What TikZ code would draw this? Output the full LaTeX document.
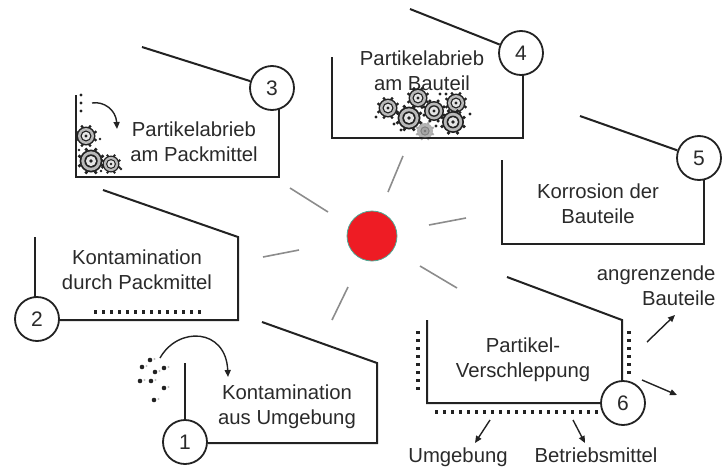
\documentclass[tikz,border=0pt]{standalone}
\usepackage{fontspec}
\setmainfont{Liberation Sans}
\usetikzlibrary{arrows.meta}
\definecolor{ink}{HTML}{222222}
\definecolor{txt}{HTML}{2A2A2A}
\definecolor{ray}{HTML}{8C8C8C}
\definecolor{core}{HTML}{EE1C24}
\definecolor{rim}{HTML}{4FA894}
\tikzset{
  frame/.style={draw=ink, line width=2pt, line join=miter},
  numcirc/.style={circle, draw=ink, line width=1.8pt, fill=white,
    minimum size=44pt, inner sep=0pt, text=txt, font=\fontsize{21}{21}\selectfont},
  caption/.style={text=txt, align=center, font=\fontsize{20.3}{25}\selectfont},
  rayline/.style={draw=ray, line width=1.6pt},
  dotline/.style={draw=ink, line width=3.4pt, dash pattern=on 3.4pt off 4.6pt},
  flow/.style={draw=ink, line width=1.4pt, -{Triangle[length=7pt,width=6pt]}},
  gear/.pic={
    \foreach \a in {22.5,67.5,...,337.5} \fill[ink] (\a:1.08) circle (0.17);
    \fill[ink] (0,0) circle (1.0);
    \fill[gray!55] (0,0) circle (0.84);
    \fill[ink] (0,0) circle (0.58);
    \fill[gray!20] (0,0) circle (0.44);
    \fill[ink] (0,0) circle (0.17);
  }
}
\begin{document}
\begin{tikzpicture}[x=1pt,y=-1pt]
\useasboundingbox (0,0) rectangle (723,466);

% central particle and its rays
\node[circle, fill=core, draw=rim, line width=0.8pt, minimum size=50pt, inner sep=0pt] (core) at (372,236) {};
\draw[rayline] (290,188) -- (328,212);
\draw[rayline] (403,156) -- (388,192);
\draw[rayline] (429,225) -- (466,218);
\draw[rayline] (420,266) -- (457,288);
\draw[rayline] (348,287) -- (332,320);
\draw[rayline] (263,257) -- (299,250);

% panel 3: abrasion on packaging
\coordinate (k3) at (279,95);
\coordinate (a3) at (279,177);
\coordinate (b3) at (76,177);
\coordinate (c3) at (76,95);
\draw[frame] (k3) -- (a3) -- (b3) -- (c3);
\node[numcirc] (n3) at (272,88) {3};
\coordinate (t3) at (142,47);
\draw[frame] (t3) -- (n3);
\node[caption] (l3) at (194,142) {Partikelabrieb\\am Packmittel};
\foreach \yy in {95,103,111} \fill[ink] (81,\yy) circle (1.7);
\coordinate (s3) at (92,103);
\coordinate (e3) at (117,129);
\draw[flow] (s3) .. controls (104,101) and (116,110) .. (e3);
\pic[scale=9.5] at (86,136) {gear};
\pic[scale=11.5] at (91,161) {gear};
\pic[scale=8.5] at (111,164) {gear};
\foreach \px/\py in {100/139, 101/171, 79/150, 121/169} \fill[ink] (\px,\py) circle (1.4);

% panel 4: abrasion on the component
\coordinate (k4) at (523,60);
\coordinate (a4) at (523,138);
\coordinate (b4) at (332,138);
\coordinate (c4) at (332,57);
\draw[frame] (k4) -- (a4) -- (b4) -- (c4);
\node[numcirc] (n4) at (521,53) {4};
\coordinate (t4) at (410,9);
\draw[frame] (t4) -- (n4);
\node[caption] (l4) at (422,71) {Partikelabrieb\\am Bauteil};
\begin{scope}[opacity=0.35]
  \pic[scale=8] at (425,131) {gear};
\end{scope}
\pic[scale=9.5] at (388,108) {gear};
\pic[scale=9.5] at (418,98) {gear};
\pic[scale=10] at (434,111) {gear};
\pic[scale=9.5] at (456,103) {gear};
\pic[scale=11.5] at (409,118) {gear};
\pic[scale=11] at (453,122) {gear};
\foreach \px/\py in {440/94, 446/94, 401/130, 394/124, 470/114, 376/117, 436/126}
  \fill[ink] (\px,\py) circle (1.6);

% panel 5: corrosion
\coordinate (k5) at (704,165);
\coordinate (a5) at (704,244);
\coordinate (b5) at (502,244);
\coordinate (c5) at (502,160);
\draw[frame] (k5) -- (a5) -- (b5) -- (c5);
\node[numcirc] (n5) at (699,158) {5};
\coordinate (t5) at (580,116);
\draw[frame] (t5) -- (n5);
\node[caption] (l5) at (598,204) {Korrosion der\\Bauteile};

% panel 2: contamination from packaging
\coordinate (t2) at (103,190);
\coordinate (a2) at (238,237);
\coordinate (b2) at (238,320);
\coordinate (k2) at (45,320);
\coordinate (c2) at (35,237);
\coordinate (m2) at (35,310);
\draw[frame] (t2) -- (a2) -- (b2) -- (k2);
\draw[frame] (c2) -- (m2);
\node[numcirc] (n2) at (37,319) {2};
\node[caption] (l2) at (137,270) {Kontamination\\durch Packmittel};
\coordinate (d2a) at (94,312);
\coordinate (d2b) at (204,312);
\draw[dotline] (d2a) -- (d2b);

% panel 1: contamination from surroundings
\coordinate (t1) at (262,322);
\coordinate (a1) at (377,363);
\coordinate (b1) at (377,443);
\node[numcirc] (n1) at (185,442) {1};
\coordinate (c1) at (185,363);
\draw[frame] (t1) -- (a1) -- (b1) -- (n1.east |- b1);
\draw[frame] (c1) -- (n1);
\node[caption] (l1) at (287,407) {Kontamination\\aus Umgebung};
\foreach \px/\py in {142/367, 150/360, 155/372, 164/368, 140/381, 151/381, 164/388, 154/400}{
  \fill[ink] (\px,\py) circle (2.3);
  \fill[gray!50] (\px+4.5,\py-1) circle (1.1);
}
\coordinate (s1) at (160,358);
\coordinate (e1) at (228,377);
\draw[flow] (s1) .. controls (178,326) and (226,328) .. (e1);

% panel 6: particle carry-over
\coordinate (t6) at (507,277);
\coordinate (a6) at (622,320);
\coordinate (k6) at (622,403);
\coordinate (b6) at (427,403);
\coordinate (c6) at (427,320);
\draw[frame] (t6) -- (a6) -- (k6) -- (b6) -- (c6);
\node[numcirc] (n6) at (623,403) {6};
\node[caption] (l6) at (523,360) {Partikel-\\Verschleppung};
\draw[dotline] (418,331) -- (418,394);
\draw[dotline] (435,412) -- (599,412);
\draw[dotline] (629,331) -- (629,378);
\node[caption, align=right, anchor=north east] (adj) at (719,262) {angrenzende\\Bauteile};
\node[caption, anchor=base] (env) at (458,462) {Umgebung};
\node[caption, anchor=base] (aux) at (596,462) {Betriebsmittel};
\coordinate (f1a) at (647,342); \coordinate (f1b) at (675,315);
\coordinate (f2a) at (642,380); \coordinate (f2b) at (677,395);
\coordinate (f3a) at (490,420); \coordinate (f3b) at (475,443);
\coordinate (f4a) at (573,420); \coordinate (f4b) at (585,443);
\draw[flow] (f1a) -- (f1b);
\draw[flow] (f2a) -- (f2b);
\draw[flow] (f3a) -- (f3b);
\draw[flow] (f4a) -- (f4b);
\end{tikzpicture}
\end{document}
